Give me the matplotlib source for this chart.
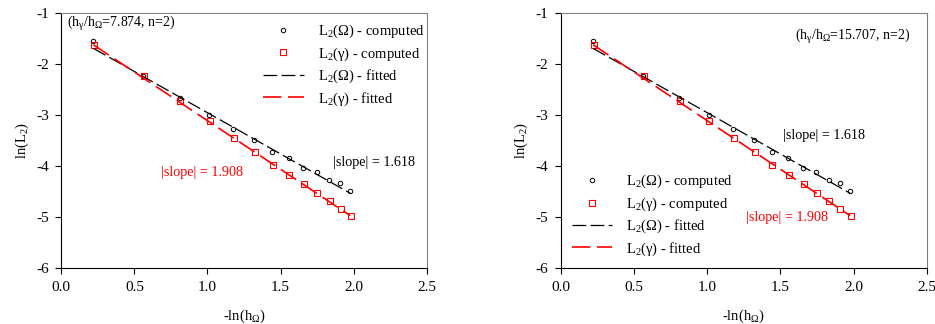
import numpy as np
import matplotlib
matplotlib.use("Agg")
import matplotlib.pyplot as plt

plt.rcParams['font.family'] = ['Liberation Serif', 'DejaVu Serif']
plt.rcParams['mathtext.fontset'] = 'custom'
plt.rcParams['mathtext.rm'] = 'Liberation Serif'
plt.rcParams['mathtext.it'] = 'Liberation Serif'
plt.rcParams['axes.unicode_minus'] = False

# -ln(h_Omega) for each refinement level
neg_ln_h = [0.22, 0.56, 0.81, 1.01, 1.175, 1.32, 1.44, 1.555, 1.653, 1.746, 1.83, 1.905, 1.977]
# computed ln(L2) errors
ln_l2_omega = [-1.55, -2.23, -2.66, -3.00, -3.28, -3.49, -3.72, -3.85, -4.03, -4.11, -4.28, -4.33, -4.48]
ln_l2_gamma = [-1.63, -2.24, -2.73, -3.12, -3.45, -3.72, -3.97, -4.17, -4.36, -4.53, -4.69, -4.85, -4.97]

# fitted lines (slope, intercept)
fit_omega = (-1.618, -1.334)
fit_gamma = (-1.908, -1.200)

panel_notes = [r"(h$_\gamma$/h$_\Omega$=7.874, n=2)", r"(h$_\gamma$/h$_\Omega$=15.707, n=2)"]

fig = plt.figure(figsize=(9.35, 3.24), dpi=100)
ax_left = fig.add_axes([0.0656, 0.1728, 0.3908, 0.7862])
ax_right = fig.add_axes([0.600, 0.1728, 0.3911, 0.7862])


def setup_axes(ax):
    ax.set_xlim(0, 2.5)
    ax.set_ylim(-6, -1)
    ax.set_xticks([0.0, 0.5, 1.0, 1.5, 2.0, 2.5])
    ax.set_xticklabels(["0.0", "0.5", "1.0", "1.5", "2.0", "2.5"])
    ax.set_yticks([-6, -5, -4, -3, -2, -1])
    ax.tick_params(direction='out', length=4, width=0.8, labelsize=11, top=False, right=False, pad=5)
    for side in ('top', 'right'):
        ax.spines[side].set_color('#808080')
    for side in ('left', 'bottom'):
        ax.spines[side].set_color('black')
    ax.set_xlabel(r"-ln(h$_\Omega$)", fontsize=10.5, labelpad=10)
    ax.set_ylabel(r"ln(L$_2$)", fontsize=10.5, labelpad=4)


def draw_panel(ax):
    x = np.array(neg_ln_h)
    xf = np.array([x[0], x[-1]])
    ax.plot(x, ln_l2_omega, 'o', ms=3.2, mfc='none', mec='black', mew=0.7, ls='none',
            label=r"L$_2$($\Omega$) - computed")
    ax.plot(x + 0.005, ln_l2_gamma, 's', ms=4, mfc='none', mec='red', mew=0.8, ls='none',
            label=r"L$_2$($\gamma$) - computed")
    ax.plot(xf, fit_omega[0] * xf + fit_omega[1], color='black', lw=0.9, dashes=(11, 3.5),
            label=r"L$_2$($\Omega$) - fitted")
    ax.plot(xf, fit_gamma[0] * xf + fit_gamma[1], color='red', lw=1.2, dashes=(11, 4),
            label=r"L$_2$($\gamma$) - fitted")


legend_style = dict(frameon=False, fontsize=10.5, handlelength=2.8, handletextpad=0.95,
                    labelspacing=0.35, borderaxespad=0, borderpad=0)

setup_axes(ax_left)
draw_panel(ax_left)
ax_left.text(0.04, -1.2, panel_notes[0], fontsize=10, ha='left', va='center')
ax_left.text(1.86, -3.93, "|slope| = 1.618", fontsize=10.2, color='black', va='center')
ax_left.text(0.685, -4.13, "|slope| = 1.908", fontsize=10.2, color='red', va='center')
ax_left.legend(loc='upper left', bbox_to_anchor=(0.552, 0.962), **legend_style)

setup_axes(ax_right)
draw_panel(ax_right)
ax_right.text(2.39, -1.45, panel_notes[1], fontsize=10, ha='right', va='center')
ax_right.text(1.52, -3.40, "|slope| = 1.618", fontsize=10.2, color='black', va='center')
ax_right.text(1.265, -5.01, "|slope| = 1.908", fontsize=10.2, color='red', va='center')
ax_right.legend(loc='upper left', bbox_to_anchor=(0.029, 0.373), **legend_style)

fig.savefig("out.png", dpi=100)
